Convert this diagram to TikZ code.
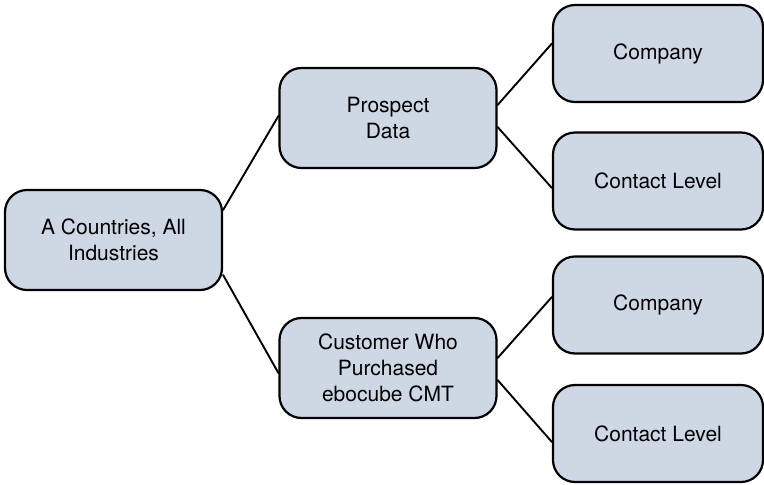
\documentclass[tikz,border=0pt]{standalone}
\usepackage{fontspec}
\setmainfont{TeX Gyre Heros}
\definecolor{ink}{HTML}{000000}
\definecolor{boxblue}{HTML}{CED7E4}
\tikzset{tb/.style={draw=ink, line width=2.2pt, fill=boxblue, rounded corners=22pt, inner sep=0pt,
    align=center, font=\fontsize{21}{26}\selectfont},
  midbox/.style={tb, minimum width=217pt, minimum height=100pt},
  leafbox/.style={tb, minimum width=210pt, minimum height=97pt},
  ln/.style={ink, line width=1.9pt, line cap=round, line join=round}}

\begin{document}
\begin{tikzpicture}[x=1pt, y=-1pt]
  \useasboundingbox (0,0) rectangle (764,485);
  \node[midbox] (root) at (113.5,240) {A Countries, All\\Industries};
  \node[midbox] (pd) at (388,118) {Prospect\\Data};
  \node[midbox] (cust) at (388,368) {Customer Who\\Purchased\\ebocube CMT};
  \foreach \n/\y/\t in {co1/53.5/Company, cl1/181/Contact Level, co2/305/Company, cl2/433.5/Contact Level}
     \node[leafbox] (\n) at (658,\y) {\t};
  % tree links
  \draw[ln] ([yshift=30pt]root.east) -- ([yshift=2pt]pd.west);
  \draw[ln] ([yshift=-35pt]root.east) -- ([yshift=-5pt]cust.west);
  \draw[ln] ([yshift=13pt]pd.east) -- ([yshift=10pt]co1.west);
  \draw[ln] ([yshift=-9pt]pd.east) -- ([yshift=-7pt]cl1.west);
  \draw[ln] ([yshift=10pt]cust.east) -- ([yshift=8pt]co2.west);
  \draw[ln] ([yshift=-12pt]cust.east) -- ([yshift=-8.5pt]cl2.west);
\end{tikzpicture}
\end{document}
